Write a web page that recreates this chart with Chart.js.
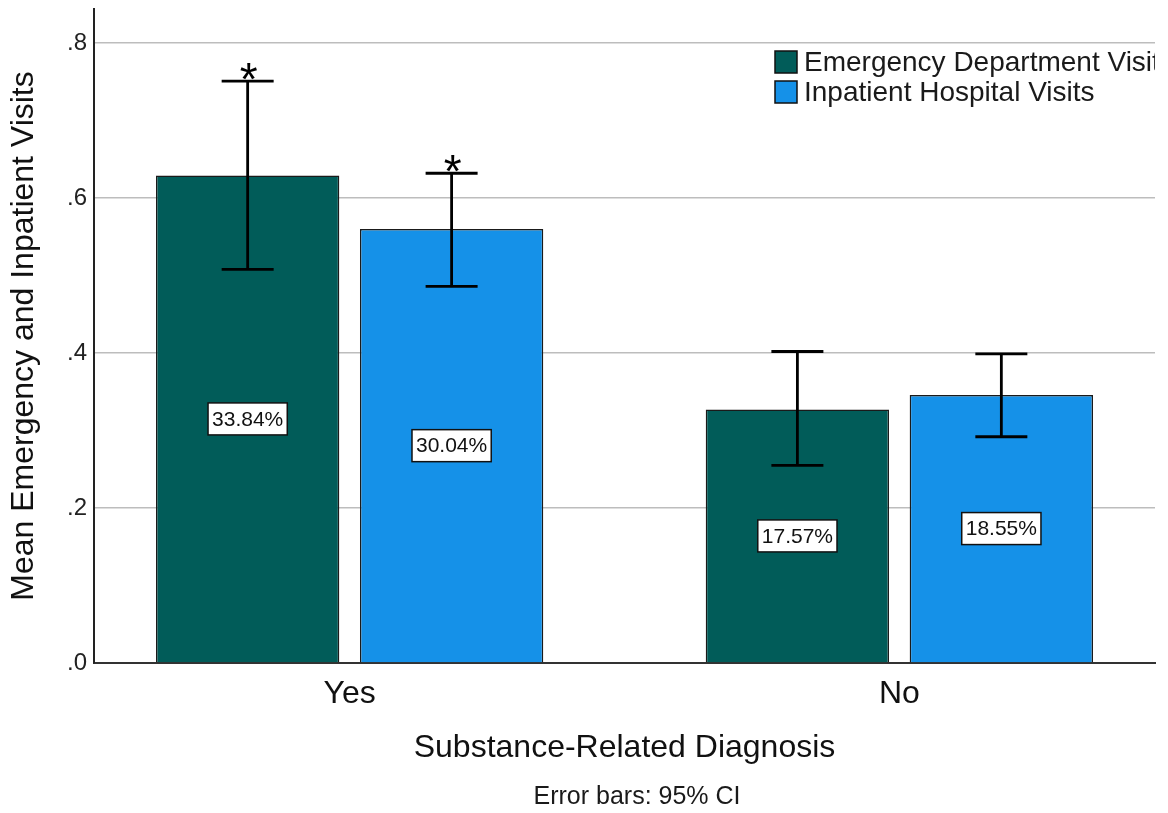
<!DOCTYPE html>
<html>
<head>
<meta charset="utf-8">
<script src="https://cdn.jsdelivr.net/npm/chart.js@4"></script>
<style>
  html, body { margin: 0; padding: 0; background: #fff; }
  #wrap { width: 1168px; height: 813px; }
</style>
</head>
<body>
<div id="wrap"><canvas id="visits" width="1168" height="813"></canvas></div>
<script>
// substance-related diagnosis: mean ED / inpatient visits with 95% CI

const categories = ['Yes', 'No']
const seriesNames = ['Emergency Department Visits', 'Inpatient Hospital Visits']
const seriesColors = ['#015c59', '#1591e8']

const edMeans = [0.629, 0.327]
const ipMeans = [0.560, 0.346]
const edLower = [0.508, 0.255]
const edUpper = [0.751, 0.402]
const ipLower = [0.486, 0.292]
const ipUpper = [0.632, 0.399]
const edPct = ['33.84%', '17.57%']
const ipPct = ['30.04%', '18.55%']
const edStars = ['*', '']
const ipStars = ['*', '']

const yTicks = [0, 0.2, 0.4, 0.6, 0.8]
const yMax = 0.844
const footnote = 'Error bars: 95% CI'

const FONT = '"Liberation Sans", Arial, sans-serif'

const toPoints = (vals) => vals.map((v, i) => ({ x: i, y: v }))

const dataVisits = {
  datasets: [{
    label: seriesNames[0],
    data: toPoints(edMeans),
    lower: edLower,
    upper: edUpper,
    pct: edPct,
    stars: edStars,
    backgroundColor: seriesColors[0],
    borderColor: '#1a1a1a',
    borderWidth: 1.5
  }, {
    label: seriesNames[1],
    data: toPoints(ipMeans),
    lower: ipLower,
    upper: ipUpper,
    pct: ipPct,
    stars: ipStars,
    backgroundColor: seriesColors[1],
    borderColor: '#1a1a1a',
    borderWidth: 1.5
  }]
}

// error bars + asterisks + percent boxes
const errorBars = {
  id: 'errorBars',
  afterDatasetsDraw(chart) {
    const ctx = chart.ctx
    const y = chart.scales.y
    chart.data.datasets.forEach((ds, di) => {
      const meta = chart.getDatasetMeta(di)
      meta.data.forEach((bar, i) => {
        // percent label box in the middle of the bar
        const midY = (bar.y + bar.base) / 2
        ctx.save()
        ctx.font = '21px ' + FONT
        const tw = ctx.measureText(ds.pct[i]).width
        const bw = tw + 8, bh = 32
        ctx.fillStyle = '#fff'
        ctx.fillRect(bar.x - bw / 2, midY - bh / 2, bw, bh)
        ctx.strokeStyle = '#111'
        ctx.lineWidth = 1.5
        ctx.strokeRect(bar.x - bw / 2, midY - bh / 2, bw, bh)
        ctx.fillStyle = '#111'
        ctx.textAlign = 'center'
        ctx.textBaseline = 'middle'
        ctx.fillText(ds.pct[i], bar.x, midY + 1)
        ctx.restore()

        // CI whiskers
        const top = y.getPixelForValue(ds.upper[i])
        const bot = y.getPixelForValue(ds.lower[i])
        ctx.save()
        ctx.strokeStyle = '#000'
        ctx.lineWidth = 2.8
        ctx.beginPath()
        ctx.moveTo(bar.x, top); ctx.lineTo(bar.x, bot)
        ctx.moveTo(bar.x - 26, top); ctx.lineTo(bar.x + 26, top)
        ctx.moveTo(bar.x - 26, bot); ctx.lineTo(bar.x + 26, bot)
        ctx.stroke()
        if (ds.stars[i]) {
          ctx.fillStyle = '#000'
          ctx.font = '46px ' + FONT
          ctx.textAlign = 'center'
          ctx.textBaseline = 'alphabetic'
          ctx.fillText(ds.stars[i], bar.x + 1, top + 14)
        }
        ctx.restore()
      })
    })
  }
}

// legend inside the plot, top right, clipped at the plot edge
const insideLegend = {
  id: 'insideLegend',
  afterDraw(chart) {
    const ctx = chart.ctx
    const area = chart.chartArea
    ctx.save()
    ctx.beginPath()
    ctx.rect(0, 0, area.right, chart.height)
    ctx.clip()
    chart.data.datasets.forEach((ds, i) => {
      const top = 51 + i * 30
      ctx.fillStyle = ds.backgroundColor
      ctx.fillRect(775, top, 22, 22)
      ctx.strokeStyle = '#111'
      ctx.lineWidth = 1.5
      ctx.strokeRect(775, top, 22, 22)
      ctx.fillStyle = '#1a1a1a'
      ctx.font = '28px ' + FONT
      ctx.textAlign = 'left'
      ctx.textBaseline = 'middle'
      ctx.fillText(ds.label, 804, top + 12)
    })
    ctx.restore()

    ctx.save()
    ctx.fillStyle = '#1a1a1a'
    ctx.font = '25px ' + FONT
    ctx.textAlign = 'center'
    ctx.textBaseline = 'middle'
    ctx.fillText(footnote, 637, 797)
    ctx.restore()
  }
}

const vctx = document.getElementById('visits').getContext('2d')
const visitsChart = new Chart(vctx, {
  type: 'bar',
  data: dataVisits,
  options: {
    responsive: false,
    animation: false,
    categoryPercentage: 0.742,
    barPercentage: 0.899,
    layout: { padding: { top: 9, right: 13, left: 0, bottom: 0 } },
    plugins: {
      legend: { display: false },
      tooltip: { enabled: false }
    },
    scales: {
      x: {
        type: 'linear',
        min: -0.465,
        max: 1.465,
        offset: false,
        grid: { display: false, drawTicks: false },
        border: { display: true, color: '#333', width: 2 },
        afterBuildTicks: (scale) => { scale.ticks = categories.map((c, i) => ({ value: i })) },
        afterFit: (scale) => { scale.height = 150; scale.paddingLeft = 0; scale.paddingRight = 0 },
        ticks: {
          padding: 12,
          color: '#111',
          font: { family: FONT, size: 32 },
          callback: (v) => categories[v]
        },
        title: {
          display: true,
          text: 'Substance-Related Diagnosis',
          color: '#111',
          font: { family: FONT, size: 32 },
          padding: { top: 0, bottom: 46 }
        }
      },
      y: {
        min: 0,
        max: yMax,
        grid: { color: '#bdbdbd', lineWidth: 1.5, drawTicks: false },
        border: { display: true, color: '#222', width: 2 },
        afterBuildTicks: (scale) => { scale.ticks = yTicks.map(v => ({ value: v })) },
        afterFit: (scale) => { scale.width = 94; scale.paddingTop = 0; scale.paddingBottom = 0 },
        ticks: {
          padding: 7,
          color: '#222',
          font: { family: FONT, size: 24 },
          callback: (v) => v.toFixed(1).replace(/^0/, '')
        },
        title: {
          display: true,
          text: 'Mean Emergency and Inpatient Visits',
          color: '#111',
          font: { family: FONT, size: 32 },
          padding: { top: 5, bottom: 0 }
        }
      }
    }
  },
  plugins: [errorBars, insideLegend]
})
</script>
</body>
</html>
